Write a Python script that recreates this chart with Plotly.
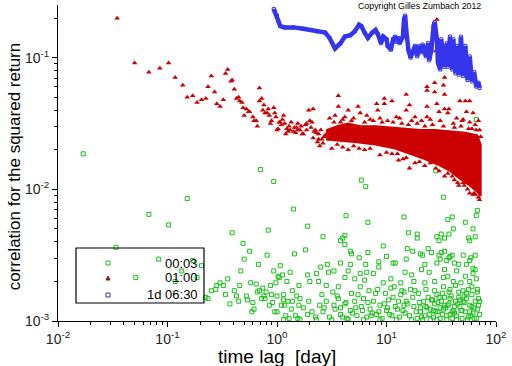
import plotly.graph_objects as go

# ---------------- data (log10 of time lag [day], log10 of correlation) ----------------
# series "00:03" (green open squares)
green_lag_log = [
    -1.77, -1.47, -1.17, -1.08, -1.29, -0.99, -0.82, -0.77, -0.69, -0.87,
    -0.93, -0.73, -0.65, -0.63, -0.60, -0.56, -0.55, -0.52, -0.49, -0.45,
    -0.47, -0.43, -0.41, -0.39, -0.37, -0.35, -0.34, -0.33, -0.31, -0.30,
    -0.28, -0.27, -0.25, -0.24, -0.23, -0.21, -0.22, -0.19, -0.18, -0.17,
    -0.16, -0.15, -0.14, -0.13, -0.12, -0.11, -0.10, -0.09, -0.08, -0.07,
    -0.06, -0.05, -0.04, -0.03, -0.03, -0.02, -0.01, 0.00, 0.01, 0.02,
    0.03, 0.04, 0.05, 0.06, 0.07, 0.08, 0.09, 0.10, 0.11, 0.12,
    0.13, 0.14, 0.15, 0.16, 0.17, 0.18, 0.19, 0.20, 0.20, 0.28,
    0.42, 0.58, 0.60, 0.62, 0.62, 0.63, 0.77, 0.81, 0.83, 0.97,
    1.16, 1.20, 1.28, 1.28, 1.45, 1.46, 1.50, 1.52, 1.53, 1.48,
    1.56, 1.57, 1.60, 1.61, 1.72, 1.75, 1.76, 1.79, 1.81, 1.82,
    1.83, 1.82, 0.26, 0.67, 0.68, 0.83, 1.00, 1.19, 1.24, 1.31,
    1.33, 1.38, 1.41, 1.50, 1.48, 1.53, 1.58, 1.60, 1.70, 1.77,
    1.81, 0.40, 0.46, 0.58, 0.67, 0.75, 0.81, 0.93, 0.93, 1.06,
    1.08, 1.18, 1.35, 1.32, 1.46, 1.49, 1.55, 1.57, 1.62, 1.66,
    1.73, 1.76, 1.79, 1.81, 0.28, 0.36, 0.47, 0.52, 0.65, 0.76,
    0.82, 0.88, 1.17, 1.23, 1.39, 1.53, 1.56, 1.64, 1.72, 1.79,
    0.30, 0.38, 0.45, 0.56, 0.62, 0.71, 0.80, 0.97, 1.04, 1.13,
    1.25, 1.35, 1.44, 1.52, 1.61, 1.68, 1.76, 1.82, 0.00, 0.06,
    0.21, 0.24, 0.29, 0.32, 0.35, 0.39, 0.42, 0.45, 0.48, 0.53,
    0.56, 0.58, 0.62, 0.64, 0.67, 0.71, 0.73, 0.77, 0.79, 0.82,
    0.85, 0.88, 0.91, 0.94, 0.96, 1.00, 1.02, 1.05, 1.08, 1.11,
    1.12, 1.15, 1.18, 1.21, 1.25, 1.28, 1.31, 1.34, 1.35, 1.38,
    1.40, 1.43, 1.44, 1.46, 1.47, 1.49, 1.50, 1.52, 1.53, 1.55,
    1.56, 1.58, 1.60, 1.61, 1.63, 1.64, 1.66, 1.67, 1.69, 1.70,
    1.72, 1.73, 1.75, 1.76, 1.78, 1.79, 1.81, 1.82, 1.83, 1.84,
    1.33, 1.36, 1.39, 1.42, 1.43, 1.46, 1.48, 1.51, 1.53, 1.55,
    1.57, 1.60, 1.62, 1.64, 1.66, 1.69, 1.71, 1.74, 1.75, 1.78,
    1.80, 1.83, 1.85, 1.85, 1.76, 1.67, 1.58, 1.49, 1.40, 1.31,
    1.23, 1.16, 1.09, 1.01, 0.94, 0.87, 0.79, 0.72, 0.65, 0.58,
    0.50, 0.43, 0.36, 0.28, 0.21, 0.14, 0.06, 0.51, 0.68, 0.84,
    0.99, 1.14, 1.29, 0.41, 0.76, 1.07, 1.22,
    0.52, 0.55, 0.60, 0.63, 0.69, 0.74, 0.78, 0.83, 0.86, 0.90,
    0.93, 0.98, 1.03, 1.06, 1.10, 1.13, 1.17, 1.19, 1.24, 1.27,
    1.30, 1.32, 1.37, 1.41, 1.45, 1.47, 1.51, 1.54, 1.57, 1.59,
    1.62, 1.65, 1.68, 1.71, 1.73, 1.77, 1.80, 1.84, 1.36, 1.44,
    1.52, 1.58, 1.63, 1.70, 1.78, 1.83, 1.26, 1.16, 1.04, 0.92,
]
green_corr_log = [
    -1.73, -2.44, -2.19, -2.53, -2.67, -2.27, -2.07, -2.54, -2.58, -2.62,
    -2.70, -2.67, -2.82, -2.83, -2.77, -2.76, -2.73, -2.71, -2.73, -2.68,
    -2.80, -2.87, -2.33, -2.77, -2.81, -2.85, -2.73, -2.62, -2.41, -2.53,
    -2.81, -2.84, -2.47, -2.71, -2.93, -2.91, -2.86, -2.72, -2.78, -2.57,
    -2.77, -1.85, -2.83, -2.75, -2.81, -2.83, -2.78, -2.50, -2.31, -2.88,
    -2.73, -2.80, -2.86, -1.94, -2.62, -2.93, -2.71, -2.81, -2.66, -2.67,
    -2.58, -2.88, -2.65, -2.80, -2.88, -2.96, -2.70, -2.85, -2.98, -2.63,
    -2.91, -2.77, -2.15, -2.49, -2.96, -2.81, -2.98, -2.88, -2.73, -2.28,
    -2.36, -2.39, -2.37, -2.35, -2.42, -2.20, -1.93, -1.98, -2.25, -2.43,
    -2.21, -2.33, -2.34, -2.37, -1.86, -2.36, -2.34, -2.06, -2.37, -2.39,
    -2.23, -2.34, -2.21, -2.30, -2.25, -2.37, -2.39, -2.30, -2.36, -1.47,
    -2.16, -2.20, -2.46, -2.47, -2.49, -2.48, -2.51, -2.45, -2.47, -2.49,
    -2.50, -2.45, -2.48, -2.48, -2.50, -2.47, -2.51, -2.50, -2.50, -2.52,
    -2.50, -2.59, -2.57, -2.56, -2.57, -2.52, -2.57, -2.55, -2.59, -2.56,
    -2.56, -2.53, -2.57, -2.61, -2.56, -2.53, -2.54, -2.52, -2.56, -2.57,
    -2.57, -2.54, -2.60, -2.61, -2.65, -2.64, -2.63, -2.62, -2.62, -2.64,
    -2.63, -2.64, -2.63, -2.65, -2.63, -2.61, -2.66, -2.62, -2.66, -2.64,
    -2.70, -2.70, -2.73, -2.74, -2.67, -2.68, -2.69, -2.71, -2.68, -2.71,
    -2.70, -2.71, -2.70, -2.67, -2.70, -2.71, -2.70, -2.68, -2.93, -2.84,
    -2.83, -2.90, -2.85, -2.93, -2.97, -2.88, -2.93, -2.85, -2.97, -2.91,
    -2.83, -2.95, -2.87, -2.98, -2.92, -2.85, -2.96, -2.89, -2.83, -2.97,
    -2.91, -2.85, -2.95, -2.88, -2.98, -2.92, -2.84, -2.96, -2.89, -2.85,
    -2.97, -2.92, -2.85, -2.96, -2.89, -2.98, -2.93, -2.85, -2.96, -2.82,
    -2.91, -2.97, -2.87, -2.80, -2.93, -2.98, -2.85, -2.91, -2.82, -2.96,
    -2.88, -2.83, -2.98, -2.92, -2.85, -2.96, -2.82, -2.89, -2.98, -2.85,
    -2.93, -2.83, -2.97, -2.88, -2.80, -2.94, -2.85, -2.98, -2.91, -2.83,
    -2.99, -2.89, -2.95, -2.84, -2.92, -2.99, -2.82, -2.95, -2.88, -2.99,
    -2.78, -2.93, -2.89, -2.99, -2.78, -2.92, -2.81, -2.99, -2.76, -2.89,
    -2.98, -2.78, -2.95, -2.85, -2.93, -2.84, -2.95, -2.90, -2.99, -2.90,
    -2.99, -2.88, -2.99, -2.90, -2.99, -2.94, -2.99, -2.90, -2.99, -2.90,
    -2.99, -2.90, -2.99, -2.95, -2.99, -2.85, -2.99, -2.78, -2.79, -2.77,
    -2.79, -2.77, -2.79, -2.80, -2.74, -2.74, -2.76,
    -2.88, -2.81, -2.97, -2.86, -2.94, -2.80, -2.92, -2.86, -2.96, -2.79,
    -2.93, -2.87, -2.95, -2.82, -2.91, -2.80, -2.94, -2.87, -2.82, -2.93,
    -2.86, -2.97, -2.90, -2.84, -2.93, -2.86, -2.79, -2.90, -2.87, -2.81,
    -2.94, -2.87, -2.92, -2.86, -2.79, -2.96, -2.90, -2.88, -2.76, -2.77,
    -2.74, -2.76, -2.73, -2.77, -2.74, -2.76, -2.77, -2.78, -2.75, -2.76,
]

# series "01:00" (red triangles)
red_lag_log = [
    -1.46, -1.30, -1.17, -1.07, -0.99, -0.93, -0.86, -0.82, -0.77, -0.73,
    -0.69, -0.65, -0.63, -0.60, -0.57, -0.55, -0.52, -0.49, -0.47, -0.45,
    -0.42, -0.41, -0.39, -0.37, -0.35, -0.34, -0.32, -0.31, -0.28, -0.30,
    -0.25, -0.22, -0.21, -0.19, -0.18, -0.16, -0.16, -0.14, -0.26, -0.12,
    -0.11, -0.08, -0.06, -0.03, -0.02, 0.01, 0.03, 0.06, 0.07, 0.10,
    0.13, 0.16, 0.19, 0.23, 0.26, 0.29, 0.30, 0.33, 0.35, 0.37,
    -0.09, -0.05, 0.00, 0.04, 0.09, 0.12, 0.15, 0.18, 0.21, 0.24,
    0.27, 0.32, 0.34, 0.38, 0.41, 0.44, 0.47, 0.56, 0.56, 0.65,
    0.74, 0.76, 0.82, 0.91, 0.92, 0.98, 0.98, 1.05, 1.09, 1.18,
    1.18, 1.21, 1.26, 1.32, 1.37, 1.37, 1.37, 1.37, 1.44, 1.44,
    1.46, 1.46, 1.45, 1.48, 1.52, 1.53, 1.53, 1.53, 1.56, 1.57,
    1.61, 1.67, 1.69, 1.72, 1.73, 1.76, 1.76, 1.78, 1.79, 1.81,
    0.58, 0.48, 0.53, 0.62, 0.68, 0.85, 0.94, 1.01, 1.12, 1.23,
    1.40, 1.49, 1.64, 1.70, 1.84, 1.85, 0.39, 0.50, 0.65, 0.80,
    0.94, 1.05, 1.15, 1.26, 1.35, 1.45, 1.53, 1.60, 1.65, 1.71,
    1.76, 1.81, 1.85, 1.21, 1.11, 1.66, 1.79,
    0.36, 0.40, 0.43, 0.46, 0.50, 0.31, 0.27, 0.22, 0.17, 0.11,
    0.05, -0.01, -0.07, -0.13, 0.19, 0.08, 0.02, 0.38, 0.42, 0.33,
    0.55, 0.60, 0.70, 0.75, 0.85, 1.00, 1.10, 1.18, 1.30, 1.40,
    1.48, 1.56, 1.62, 1.70, 1.74, 1.80, 1.84,
    0.52, 0.60, 0.70, 0.80, 0.88, 0.96, 1.06, 1.14, 1.20, 1.28,
    1.35, 1.42, 1.52, 1.62, 1.68, 1.75, 1.82, 1.86,
]
red_corr_log = [
    -0.70, -1.04, -1.11, -1.08, -1.04, -1.15, -1.21, -1.30, -1.29, -1.34,
    -1.32, -1.31, -1.22, -1.14, -1.26, -1.35, -1.37, -1.32, -1.12, -1.09,
    -1.18, -1.17, -1.24, -1.31, -1.30, -1.33, -1.34, -1.38, -1.39, -1.44,
    -1.41, -1.45, -1.48, -1.48, -1.52, -1.23, -1.33, -1.31, -1.41, -1.36,
    -1.42, -1.39, -1.50, -1.38, -1.42, -1.54, -1.49, -1.44, -1.50, -1.56,
    -1.49, -1.53, -1.55, -1.58, -1.51, -1.40, -1.48, -1.39, -1.55, -1.64,
    -1.42, -1.48, -1.55, -1.51, -1.54, -1.55, -1.56, -1.53, -1.55, -1.58,
    -1.50, -1.49, -1.56, -1.58, -1.62, -1.59, -1.62, -1.29, -1.37, -1.40,
    -1.37, -1.42, -1.44, -1.35, -1.40, -1.31, -1.35, -1.33, -1.45, -1.28,
    -1.40, -1.36, -1.45, -1.48, -1.37, -1.45, -1.22, -1.25, -1.19, -1.26,
    -1.35, -0.71, -0.95, -1.41, -1.21, -1.15, -1.28, -1.39, -1.42, -1.39,
    -1.50, -1.33, -1.48, -1.33, -1.41, -1.33, -1.49, -1.54, -1.42, -1.51,
    -1.49, -1.46, -1.44, -1.45, -1.48, -1.47, -1.46, -1.48, -1.46, -1.48,
    -1.47, -1.48, -1.46, -1.47, -1.48, -1.55, -1.67, -1.69, -1.70, -1.70,
    -1.74, -1.73, -1.77, -1.80, -1.82, -1.84, -1.90, -1.90, -1.95, -1.97,
    -2.03, -2.04, -2.08, -1.84, -1.78, -1.97, -2.04,
    -1.57, -1.55, -1.60, -1.57, -1.60, -1.53, -1.55, -1.52, -1.57, -1.52,
    -1.47, -1.45, -1.44, -1.40, -1.50, -1.58, -1.49, -1.62, -1.65, -1.61,
    -1.66, -1.68, -1.67, -1.69, -1.69, -1.72, -1.73, -1.76, -1.79, -1.80,
    -1.86, -1.88, -1.93, -1.95, -2.00, -2.03, -2.06,
    -1.49, -1.47, -1.46, -1.49, -1.48, -1.49, -1.49, -1.50, -1.51, -1.50,
    -1.52, -1.51, -1.52, -1.53, -1.52, -1.54, -1.55, -1.60,
]
# dense core of the "01:00" cloud: upper edge then lower edge
red_core_lag_log = [0.45, 0.55, 0.65, 0.76, 0.90, 1.03, 1.17, 1.31, 1.44, 1.58, 1.72, 1.83, 1.86,
                    1.86, 1.83, 1.76, 1.67, 1.58, 1.49, 1.35, 1.22, 1.08, 0.90, 0.71, 0.55, 0.45]
red_core_corr_log = [-1.55, -1.52, -1.50, -1.52, -1.52, -1.53, -1.54, -1.55, -1.55, -1.56, -1.57, -1.59, -1.66,
                     -2.05, -2.02, -1.97, -1.92, -1.86, -1.82, -1.77, -1.73, -1.69, -1.66, -1.64, -1.63, -1.62]

# series "1d 06:30" (blue)
blue_lag_log = [
    -0.03, -0.02, 0.00, 0.01, 0.03, 0.07, 0.15, 0.24, 0.30, 0.37,
    0.44, 0.48, 0.53, 0.58, 0.62, 0.67, 0.71, 0.75, 0.77, 0.80,
    0.83, 0.87, 0.90, 0.92, 0.95, 0.97, 1.00, 1.01, 1.04, 1.06,
    1.08, 1.09, 1.11, 1.12, 1.15, 1.16, 1.17, 1.18, 1.20, 1.22,
    1.24, 1.26, 1.28, 1.30, 1.32, 1.33, 1.36, 1.38, 1.39, 1.41,
    1.43, 1.44, 1.46, 1.47, 1.49, 1.50, 1.51, 1.53, 1.55, 1.56,
    1.58, 1.60, 1.61, 1.63, 1.64, 1.66, 1.68, 1.70, 1.72, 1.74,
    1.76, 1.78, 1.80, 1.82, 1.84, 1.85,
]
blue_corr_log = [
    -0.63, -0.65, -0.68, -0.72, -0.76, -0.77, -0.77, -0.78, -0.79, -0.80,
    -0.81, -0.85, -0.93, -0.89, -0.84, -0.83, -0.80, -0.75, -0.76, -0.81,
    -0.85, -0.81, -0.79, -0.82, -0.89, -0.84, -0.86, -0.91, -0.94, -0.86,
    -0.84, -0.88, -0.85, -0.89, -0.84, -0.71, -0.68, -0.79, -0.94, -1.00,
    -0.96, -0.91, -0.99, -0.91, -0.96, -0.90, -0.99, -0.89, -1.02, -0.94,
    -0.76, -0.73, -0.86, -1.04, -1.09, -0.86, -0.94, -1.07, -0.89, -1.07,
    -0.84, -1.09, -0.86, -1.12, -0.91, -1.13, -0.84, -1.14, -0.91, -1.17,
    -0.99, -1.18, -1.11, -1.22, -1.19, -1.23,
]

series_names = ["00:03", "01:00", "1d 06:30"]
x_tick_exponents = [-2, -1, 0, 1, 2]
y_tick_exponents = [-3, -2, -1]


def lin(v):
    return [10 ** a for a in v]


GREEN = "#19c019"
RED = "#cc0000"
BLUE = "#3535ee"
BLUE_LEG = "#40309a"
FONT = "Liberation Sans"

fig = go.Figure()

fig.add_trace(go.Scatter(
    x=lin(red_core_lag_log), y=lin(red_core_corr_log), mode="lines",
    fill="toself", fillcolor=RED, line=dict(color=RED, width=2),
    showlegend=False, hoverinfo="skip"))

fig.add_trace(go.Scatter(
    x=lin(green_lag_log), y=lin(green_corr_log), mode="markers", name=series_names[0],
    marker=dict(symbol="square-open", size=4, color=GREEN, line=dict(width=1, color=GREEN)),
    showlegend=False))

fig.add_trace(go.Scatter(
    x=lin(red_lag_log), y=lin(red_corr_log), mode="markers", name=series_names[1],
    marker=dict(symbol="triangle-up", size=5, color=RED, line=dict(width=0)),
    showlegend=False))

fig.add_trace(go.Scatter(
    x=lin(blue_lag_log), y=lin(blue_corr_log), mode="lines+markers", name=series_names[2],
    line=dict(color=BLUE, width=4.5),
    marker=dict(symbol="square-open", size=3, color=BLUE, line=dict(width=1, color=BLUE)),
    showlegend=False))


def power_labels(exps):
    return ["10<sup>%d</sup>" % e for e in exps]


def minor_vals(exps):
    out = []
    for e in exps[:-1]:
        for m in range(2, 10):
            out.append(m * 10 ** e)
    return out


axis_common = dict(
    type="log", showgrid=False, zeroline=False, showline=True, linecolor="black", linewidth=1,
    ticks="outside", ticklen=5, tickcolor="black", tickwidth=1, automargin=False,
    tickfont=dict(family=FONT, size=14, color="#222"), mirror=False,
)

fig.update_xaxes(range=[-2, 2], tickmode="array",
                 tickvals=[10 ** e for e in x_tick_exponents], ticktext=power_labels(x_tick_exponents),
                 minor=dict(tickmode="array", tickvals=minor_vals(x_tick_exponents), ticks="outside",
                            ticklen=3, tickcolor="black", showgrid=False),
                 **axis_common)
fig.update_yaxes(range=[-3, -0.6], tickmode="array",
                 tickvals=[10 ** e for e in y_tick_exponents], ticktext=power_labels(y_tick_exponents),
                 minor=dict(tickmode="array", tickvals=minor_vals([-3, -2, -1, 0]), ticks="outside",
                            ticklen=3, tickcolor="black", showgrid=False),
                 **axis_common)

# ---- legend drawn as a framed box (paper coordinates) ----
leg_rows_y = [0.1835, 0.1361, 0.0823]
sym_x = 0.1142
sq_w, sq_h = 0.0046, 0.0063
shapes = [
    dict(type="rect", xref="paper", yref="paper", x0=0.0411, x1=0.3333, y0=0.057, y1=0.231,
         line=dict(color="black", width=1.2), fillcolor="rgba(0,0,0,0)"),
    dict(type="rect", xref="paper", yref="paper",
         x0=sym_x - sq_w, x1=sym_x + sq_w, y0=leg_rows_y[0] - sq_h, y1=leg_rows_y[0] + sq_h,
         line=dict(color=GREEN, width=1), fillcolor="rgba(0,0,0,0)"),
    dict(type="path", xref="paper", yref="paper",
         path="M %.4f %.4f L %.4f %.4f L %.4f %.4f Z" % (
             sym_x - 0.0046, leg_rows_y[1] - 0.0063, sym_x + 0.0046, leg_rows_y[1] - 0.0063,
             sym_x, leg_rows_y[1] + 0.0063),
         line=dict(color="#8b1a1a", width=1), fillcolor="#8b1a1a"),
    dict(type="rect", xref="paper", yref="paper",
         x0=sym_x - sq_w, x1=sym_x + sq_w, y0=leg_rows_y[2] - sq_h, y1=leg_rows_y[2] + sq_h,
         line=dict(color=BLUE_LEG, width=1), fillcolor="rgba(0,0,0,0)"),
]

annotations = [
    dict(text="time lag  [day]", xref="paper", yref="paper", x=0.5, y=-0.111,
         xanchor="center", yanchor="middle", showarrow=False,
         font=dict(family=FONT, size=19, color="black")),
    dict(text="correlation for the squared return", xref="paper", yref="paper",
         x=-0.1, y=0.49, xanchor="center", yanchor="middle", textangle=-90,
         showarrow=False, font=dict(family=FONT, size=17, color="black")),
    dict(text="Copyright Gilles Zumbach 2012", xref="paper", yref="paper",
         x=0.825, y=0.998, xanchor="center", yanchor="middle", showarrow=False,
         font=dict(family=FONT, size=8.8, color="black")),
]
for name, yy in zip(series_names, leg_rows_y):
    annotations.append(dict(text=name, xref="paper", yref="paper", x=0.3242, y=yy,
                            xanchor="right", yanchor="middle", showarrow=False,
                            font=dict(family=FONT, size=13, color="black")))

fig.update_layout(
    width=512, height=366,
    margin=dict(l=58, r=16, t=5, b=45),
    paper_bgcolor="white", plot_bgcolor="white",
    font=dict(family=FONT, color="black"),
    showlegend=False,
    shapes=shapes,
    annotations=annotations,
)

fig.write_html(
    "out.html",
    config={"displayModeBar": False},
    post_script="document.body.style.margin='0';document.body.style.padding='0';"
                "document.documentElement.style.overflow='hidden';",
)
